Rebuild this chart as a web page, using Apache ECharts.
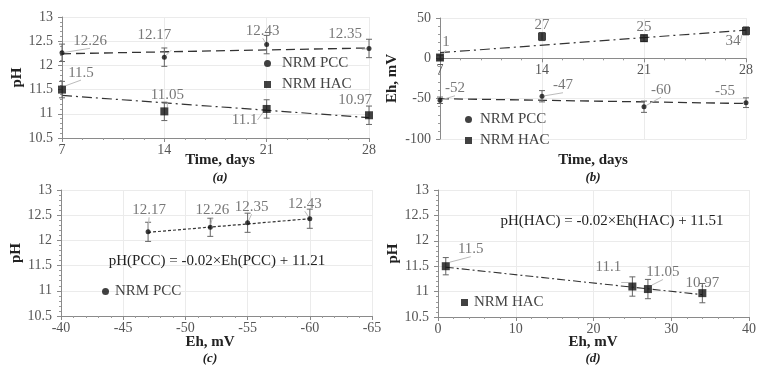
<!DOCTYPE html>
<html>
<head>
<meta charset="utf-8">
<script src="https://cdn.jsdelivr.net/npm/echarts@6/dist/echarts.min.js"></script>
<style>
html, body { margin: 0; padding: 0; background: #fff; }
#main { width: 766px; height: 376px; }
</style>
</head>
<body>
<div id="main"></div>
<script>
// measured values
var days = [7, 14, 21, 28];
var phPCC = [12.26, 12.17, 12.43, 12.35];
var phHAC = [11.5, 11.05, 11.1, 10.97];
var ehPCC = [-52, -47, -60, -55];
var ehHAC = [1, 27, 25, 34];
var phErrPCC = [0.18, 0.19, 0.19, 0.19];
var phErrHAC = [0.17, 0.19, 0.19, 0.19];
var ehErrPCC = [4, 7, 7, 6];
var ehErrHAC = [3, 5, 4, 5];

// trend lines (end points)
var trendDays = [7, 28];
var trendPhPCC = [12.24, 12.36];
var trendPhHAC = [11.38, 10.92];
var trendEhPCC = [-50, -56];
var trendEhHAC = [7, 35];
var trendEhC = [-47, -60];
var trendPhC = [12.16, 12.43];
var trendEhD = [1, 34];
var trendPhD = [11.48, 10.94];

var FONT = "'Liberation Serif', 'DejaVu Serif', serif";

// label offsets, per point
var offA1 = [[28, -12], [-10, -22], [-4, -14], [-24, -14]];
var offA2 = [[19, -17], [3, -16], [-22, 11], [-14, -15]];
var offB1 = [[15, -12], [21, -11], [17, -17], [-21, -12]];
var offB2 = [[6, -15], [0, -11], [0, -11], [-13, 10]];
var offC = [[2, -17], [1, -22], [-5, -15], [4, -16]];
var offD = [[25, -17], [15, -17], [-24, -19], [0, -10]];

function pts(xs, ys, offs) {
	var d = [];
	for (var i = 0; i < xs.length; i++) {
		d.push({ value: [xs[i], ys[i]], label: { offset: offs[i] } });
	}
	return d;
}

function scatter(name, symbol, size, gi, xs, ys, offs) {
	return {
		name: name,
		type: 'scatter',
		xAxisIndex: gi,
		yAxisIndex: gi,
		symbol: symbol,
		symbolSize: size,
		z: 5,
		itemStyle: { color: '#111' },
		label: {
			show: true,
			position: 'inside',
			color: '#555',
			fontFamily: FONT,
			fontSize: 15,
			formatter: function (p) { return '' + p.value[1]; }
		},
		labelLine: { show: true, lineStyle: { color: '#bbb', width: 1 } },
		data: pts(xs, ys, offs)
	};
}

function errBars(gi, xs, ys, errs) {
	var d = [];
	for (var i = 0; i < xs.length; i++) d.push([xs[i], ys[i], errs[i]]);
	return {
		type: 'custom',
		xAxisIndex: gi,
		yAxisIndex: gi,
		silent: true,
		z: 3,
		encode: { x: 0, y: 1 },
		renderItem: function (params, api) {
			var x = api.value(0), y = api.value(1), e = api.value(2);
			var hi = api.coord([x, y + e]);
			var lo = api.coord([x, y - e]);
			var st = { stroke: '#666', lineWidth: 1 };
			return {
				type: 'group',
				children: [
					{ type: 'line', shape: { x1: hi[0], y1: hi[1], x2: lo[0], y2: lo[1] }, style: st },
					{ type: 'line', shape: { x1: hi[0] - 3, y1: hi[1], x2: hi[0] + 3, y2: hi[1] }, style: st },
					{ type: 'line', shape: { x1: lo[0] - 3, y1: lo[1], x2: lo[0] + 3, y2: lo[1] }, style: st }
				]
			};
		},
		data: d
	};
}

function trend(gi, xs, ys, dash, w) {
	var d = [];
	for (var i = 0; i < xs.length; i++) d.push([xs[i], ys[i]]);
	return {
		type: 'line',
		xAxisIndex: gi,
		yAxisIndex: gi,
		symbol: 'none',
		silent: true,
		z: 2,
		lineStyle: { color: '#333', width: w, type: dash },
		data: d
	};
}

function axis(gi, min, max, interval, extra) {
	var a = {
		type: 'value',
		gridIndex: gi,
		min: min,
		max: max,
		interval: interval,
		axisLine: { show: true, onZero: false, lineStyle: { color: '#8a8a8a' } },
		axisTick: { show: true, length: 4, lineStyle: { color: '#8a8a8a' } },
		minorTick: { show: true, splitNumber: 5, length: 2, lineStyle: { color: '#9a9a9a' } },
		splitLine: { show: true, lineStyle: { color: '#ebebeb' } },
		axisLabel: { color: '#555', fontFamily: FONT, fontSize: 14, margin: 9 }
	};
	for (var k in extra) a[k] = extra[k];
	return a;
}

var xLabel = { color: '#555', fontFamily: FONT, fontSize: 14, margin: 5 };

function yName(n, gap) {
	return {
		name: n,
		nameLocation: 'middle',
		nameGap: gap,
		nameTextStyle: { color: '#222', fontFamily: FONT, fontSize: 15, fontWeight: 'bold' }
	};
}

function legend(left, top, pad, items) {
	return {
		left: left,
		top: top,
		orient: 'vertical',
		itemGap: 6,
		itemWidth: 7,
		itemHeight: 7,
		selectedMode: false,
		textStyle: { color: '#444', fontFamily: FONT, fontSize: 15, padding: [0, 0, 0, pad] },
		data: items
	};
}

function text(x, y, s, style) {
	var t = { text: s, fill: '#222', font: style, align: 'center', verticalAlign: 'middle' };
	return { type: 'text', x: x, y: y, style: t, z: 10 };
}

var myChart = echarts.init(document.getElementById('main'));
var PCC = { name: 'NRM PCC', icon: 'circle' };
var HAC = { name: 'NRM HAC', icon: 'rect' };
var option = {
	backgroundColor: '#fff',
	animation: false,
	grid: [
		{ left: 62, top: 17, width: 307, height: 121, outerBoundsMode: 'none' },
		{ left: 440, top: 18, width: 306, height: 121, outerBoundsMode: 'none' },
		{ left: 61, top: 190, width: 311, height: 126, outerBoundsMode: 'none' },
		{ left: 438, top: 190, width: 311, height: 127, outerBoundsMode: 'none' }
	],
	xAxis: [
		axis(0, 7, 28, 7, { axisLabel: xLabel }),
		// the Eh axis crosses at 0 mV: 100 of 150 units up the 121 px plot
		axis(1, 7, 28, 7, { axisLabel: xLabel, offset: -121 * 100 / 150 }),
		axis(2, -65, -40, 5, { axisLabel: xLabel, inverse: true }),
		axis(3, 0, 40, 10, { axisLabel: xLabel })
	],
	yAxis: [
		axis(0, 10.5, 13, 0.5, yName('pH', 36)),
		axis(1, -100, 50, 50, yName('Eh, mV', 40)),
		axis(2, 10.5, 13, 0.5, yName('pH', 37)),
		axis(3, 10.5, 13, 0.5, yName('pH', 36))
	],
	legend: [
		legend(259, 51, 6, [PCC, HAC]),
		legend(460, 107, 3, [PCC, HAC]),
		legend(97, 279, 1, [PCC]),
		legend(456, 290, 1, [HAC])
	],
	graphic: [
		text(220, 160, 'Time, days', 'bold 15px ' + FONT),
		text(220, 178, '(a)', 'italic bold 13px ' + FONT),
		text(593, 160, 'Time, days', 'bold 15px ' + FONT),
		text(593, 178, '(b)', 'italic bold 13px ' + FONT),
		text(210, 342, 'Eh, mV', 'bold 15px ' + FONT),
		text(210, 359, '(c)', 'italic bold 13px ' + FONT),
		text(593, 342, 'Eh, mV', 'bold 15px ' + FONT),
		text(593, 359, '(d)', 'italic bold 13px ' + FONT),
		text(217, 261, 'pH(PCC) = -0.02×Eh(PCC) + 11.21', '15px ' + FONT),
		text(612, 221, 'pH(HAC) = -0.02×Eh(HAC) + 11.51', '15px ' + FONT)
	],
	series: [
		trend(0, trendDays, trendPhPCC, [9, 5], 1.3),
		trend(0, trendDays, trendPhHAC, [10, 4, 2, 4], 1.2),
		errBars(0, days, phPCC, phErrPCC),
		errBars(0, days, phHAC, phErrHAC),
		scatter('NRM PCC', 'circle', 5, 0, days, phPCC, offA1),
		scatter('NRM HAC', 'rect', 8, 0, days, phHAC, offA2),

		trend(1, trendDays, trendEhPCC, [9, 5], 1.3),
		trend(1, trendDays, trendEhHAC, [10, 4, 2, 4], 1.2),
		errBars(1, days, ehPCC, ehErrPCC),
		errBars(1, days, ehHAC, ehErrHAC),
		scatter('NRM PCC', 'circle', 5, 1, days, ehPCC, offB1),
		scatter('NRM HAC', 'rect', 8, 1, days, ehHAC, offB2),

		trend(2, trendEhC, trendPhC, [3, 2], 1.2),
		errBars(2, ehPCC, phPCC, phErrPCC),
		scatter('NRM PCC', 'circle', 5, 2, ehPCC, phPCC, offC),

		trend(3, trendEhD, trendPhD, [8, 3, 2, 3], 1.1),
		errBars(3, ehHAC, phHAC, phErrHAC),
		scatter('NRM HAC', 'rect', 8, 3, ehHAC, phHAC, offD)
	]
};
myChart.setOption(option);
</script>
</body>
</html>
